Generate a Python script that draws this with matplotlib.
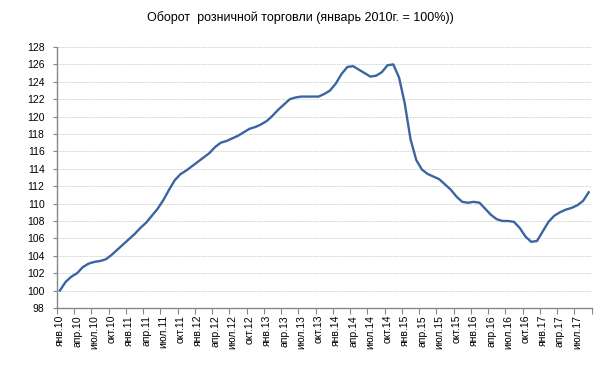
import matplotlib
matplotlib.use("Agg")
import matplotlib.pyplot as plt
import numpy as np

plt.rcParams['font.family'] = ['Liberation Sans', 'DejaVu Sans']

title = "Оборот  розничной торговли (январь 2010г. = 100%))"
months = ["янв", "фев", "мар", "апр", "май", "июн", "июл", "авг", "сен", "окт", "ноя", "дек"]
years = list(range(10, 18))

values = [
    100.0, 101.0, 101.6, 102.0, 102.7, 103.1, 103.3, 103.4, 103.6, 104.1, 104.7, 105.3,
    105.9, 106.5, 107.2, 107.8, 108.6, 109.4, 110.4, 111.6, 112.7, 113.4, 113.8, 114.3,
    114.8, 115.3, 115.8, 116.5, 117.0, 117.2, 117.5, 117.8, 118.2, 118.6, 118.8, 119.1,
    119.5, 120.1, 120.8, 121.4, 122.0, 122.2, 122.3, 122.3, 122.3, 122.3, 122.6, 123.0,
    123.8, 124.9, 125.7, 125.8, 125.4, 125.0, 124.6, 124.7, 125.1, 125.9, 126.0, 124.5,
    121.5, 117.4, 115.0, 113.9, 113.4, 113.1, 112.8, 112.2, 111.6, 110.8, 110.2, 110.1,
    110.2, 110.1, 109.4, 108.7, 108.2, 108.0, 108.0, 107.9, 107.2, 106.2, 105.6, 105.7,
    106.8, 107.9, 108.6, 109.0, 109.3, 109.5, 109.8, 110.3, 111.3,
]

categories = [f"{months[m]}.{y}" for y in years for m in range(12)][:len(values)]

fig = plt.figure(figsize=(6, 3.9), dpi=100)
ax = fig.add_axes([0.095, 0.2103, 0.891, 0.6692])

x = np.arange(len(values))
ax.plot(x, values, color='#3b65a2', linewidth=1.7, solid_joinstyle='round', zorder=3)

ax.set_xlim(-0.5, len(values) - 0.5)
ax.set_ylim(98, 128)
ax.set_yticks(np.arange(98, 129, 2))
ax.tick_params(axis='y', labelsize=7.5, length=3, color='#868686', pad=6)
ax.yaxis.grid(True, color='#d2d2d2', linestyle=(0, (1.5, 1)), linewidth=0.7)
ax.set_axisbelow(True)

# major ticks at category boundaries every 3 months, labels at centers
ax.set_xticks(np.arange(-0.5, len(values), 3))
ax.set_xticklabels([])
lab_pos = np.arange(0, len(values), 3)
ax.set_xticks(lab_pos, minor=True)
ax.set_xticklabels([categories[i] for i in lab_pos], minor=True, rotation=90, fontsize=7.5)
ax.tick_params(axis='x', which='major', length=4, color='#868686')
ax.tick_params(axis='x', which='minor', length=0, pad=5)

for s in ['top', 'right']:
    ax.spines[s].set_visible(False)
for s in ['left', 'bottom']:
    ax.spines[s].set_color('#868686')
    ax.spines[s].set_linewidth(1.0)

fig.text(0.5, 0.955, title, ha='center', va='center', fontsize=9)

fig.savefig("out.png", dpi=100)
